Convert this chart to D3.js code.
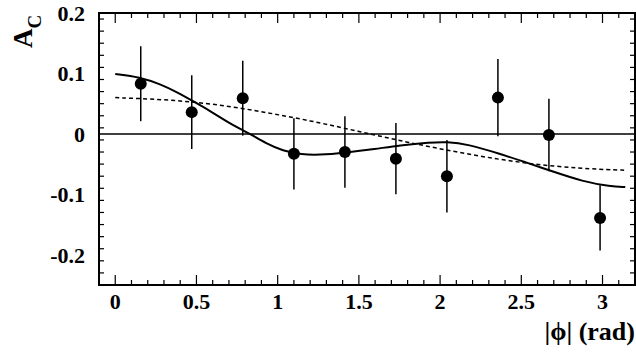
<!DOCTYPE html>
<html><head><meta charset="utf-8"><script src="https://cdn.jsdelivr.net/npm/d3@7"></script></head>
<body style="margin:0">
<script>
// measured points (bin centres in |phi|) with symmetric errors
const phiBins = [0.157, 0.471, 0.785, 1.100, 1.414, 1.728, 2.042, 2.356, 2.670, 2.985];
const acValues = [0.083, 0.036, 0.059, -0.033, -0.030, -0.041, -0.070, 0.060, -0.002, -0.139];
const acErrors = [0.062, 0.061, 0.062, 0.059, 0.059, 0.059, 0.060, 0.064, 0.060, 0.054];

// solid curve
const fitPhi = [0, 0.15, 0.28, 0.38, 0.48, 0.59, 0.69, 0.77, 0.83, 0.93, 1.03, 1.15, 1.25, 1.42, 1.60, 1.75, 1.94, 2.04, 2.17, 2.37, 2.57, 2.68, 2.88, 3.05, 3.14];
const fitAc = [0.099, 0.094, 0.082, 0.069, 0.054, 0.037, 0.020, 0.008, 0.000, -0.016, -0.028, -0.034, -0.035, -0.031, -0.025, -0.019, -0.014, -0.013, -0.017, -0.033, -0.051, -0.061, -0.079, -0.087, -0.088];

// dashed curve
const dashPhi = [0, 0.3, 0.6, 0.9, 1.2, 1.5, 1.8, 2.1, 2.4, 2.7, 3.0, 3.14];
const dashAc = [0.060, 0.057, 0.050, 0.037, 0.022, 0.004, -0.014, -0.030, -0.044, -0.054, -0.059, -0.060];

const xTicks = [0, 0.5, 1, 1.5, 2, 2.5, 3];
const xTickLabels = ['0', '0.5', '1', '1.5', '2', '2.5', '3'];
const yTicks = [0.2, 0.1, 0, -0.1, -0.2];
const yTickLabels = ['0.2', '0.1', '0', '-0.1', '-0.2'];

const font = 'Liberation Serif';
const width = 636, height = 354;
const x = d3.scaleLinear().domain([-0.1, 3.2]).range([99, 635]);
const y = d3.scaleLinear().domain([-0.25, 0.2]).range([285, 13]);

const svg = d3.select('body').append('svg')
  .attr('width', width)
  .attr('height', height);

// -- ticks on all four sides, pointing inward
const xMinor = d3.range(1, 33).map(i => -0.1 + i * 0.1);
const yMinor = d3.range(1, 23).map(i => -0.25 + i * 0.02);
const isMajorX = v => Math.abs(v * 2 - Math.round(v * 2)) < 1e-6;
const isMajorY = v => Math.abs(v * 10 - Math.round(v * 10)) < 1e-6;

const ticks = svg.append('g').attr('stroke', '#000').attr('stroke-width', 1.2);
[285, 13].forEach((yy, side) => {
  ticks.selectAll(null)
    .data(xMinor)
    .join('line')
    .attr('x1', d => x(d)).attr('x2', d => x(d))
    .attr('y1', yy)
    .attr('y2', d => yy + (side === 0 ? -1 : 1) * (isMajorX(d) ? 10 : 5));
});
[99, 635].forEach((xx, side) => {
  ticks.selectAll(null)
    .data(yMinor)
    .join('line')
    .attr('y1', d => y(d)).attr('y2', d => y(d))
    .attr('x1', xx)
    .attr('x2', d => xx + (side === 0 ? 1 : -1) * (isMajorY(d) ? 11 : 5));
});

// -- zero line
svg.append('line')
  .attr('x1', x(-0.1)).attr('x2', x(3.2))
  .attr('y1', y(0)).attr('y2', y(0))
  .attr('stroke', '#000').attr('stroke-width', 1.5);

// -- curves
const line = d3.line().x(d => x(d[0])).y(d => y(d[1])).curve(d3.curveBasis);
svg.append('path')
  .datum(dashPhi.map((p, i) => [p, dashAc[i]]))
  .attr('fill', 'none').attr('stroke', '#000').attr('stroke-width', 1.5)
  .attr('stroke-dasharray', '4,3')
  .attr('d', line);
svg.append('path')
  .datum(fitPhi.map((p, i) => [p, fitAc[i]]))
  .attr('fill', 'none').attr('stroke', '#000').attr('stroke-width', 2)
  .attr('d', line);

// -- data points with error bars
const pts = svg.append('g')
  .selectAll('g')
  .data(phiBins.map((p, i) => ({ p, v: acValues[i], e: acErrors[i] })))
  .join('g');
pts.append('line')
  .attr('x1', d => x(d.p)).attr('x2', d => x(d.p))
  .attr('y1', d => y(d.v + d.e)).attr('y2', d => y(d.v - d.e))
  .attr('stroke', '#000').attr('stroke-width', 1.5);
pts.append('circle')
  .attr('cx', d => x(d.p)).attr('cy', d => y(d.v))
  .attr('r', 6).attr('fill', '#000');

// -- frame
svg.append('rect')
  .attr('x', 99).attr('y', 13).attr('width', 536).attr('height', 272)
  .attr('fill', 'none').attr('stroke', '#000').attr('stroke-width', 2);

// -- tick labels
svg.append('g')
  .selectAll('text')
  .data(xTicks)
  .join('text')
  .attr('x', d => x(d)).attr('y', 309)
  .attr('text-anchor', 'middle')
  .attr('font-family', font).attr('font-weight', 'bold').attr('font-size', 22)
  .text((d, i) => xTickLabels[i]);
svg.append('g')
  .selectAll('text')
  .data(yTicks)
  .join('text')
  .attr('x', 85).attr('y', d => y(d) + 8)
  .attr('text-anchor', 'end')
  .attr('font-family', font).attr('font-weight', 'bold').attr('font-size', 22)
  .text((d, i) => yTickLabels[i]);

// -- axis titles
svg.append('text')
  .attr('x', 635).attr('y', 340)
  .attr('text-anchor', 'end')
  .attr('font-family', font).attr('font-weight', 'bold').attr('font-size', 26)
  .text('|\u03D5| (rad)');

const yTitle = svg.append('text')
  .attr('transform', 'translate(32,48) rotate(-90)')
  .attr('font-family', font).attr('font-weight', 'bold').attr('font-size', 27);
yTitle.append('tspan').text('A');
yTitle.append('tspan').attr('dy', 9).attr('font-size', 19).text('C');
</script>
</body>
</html>
